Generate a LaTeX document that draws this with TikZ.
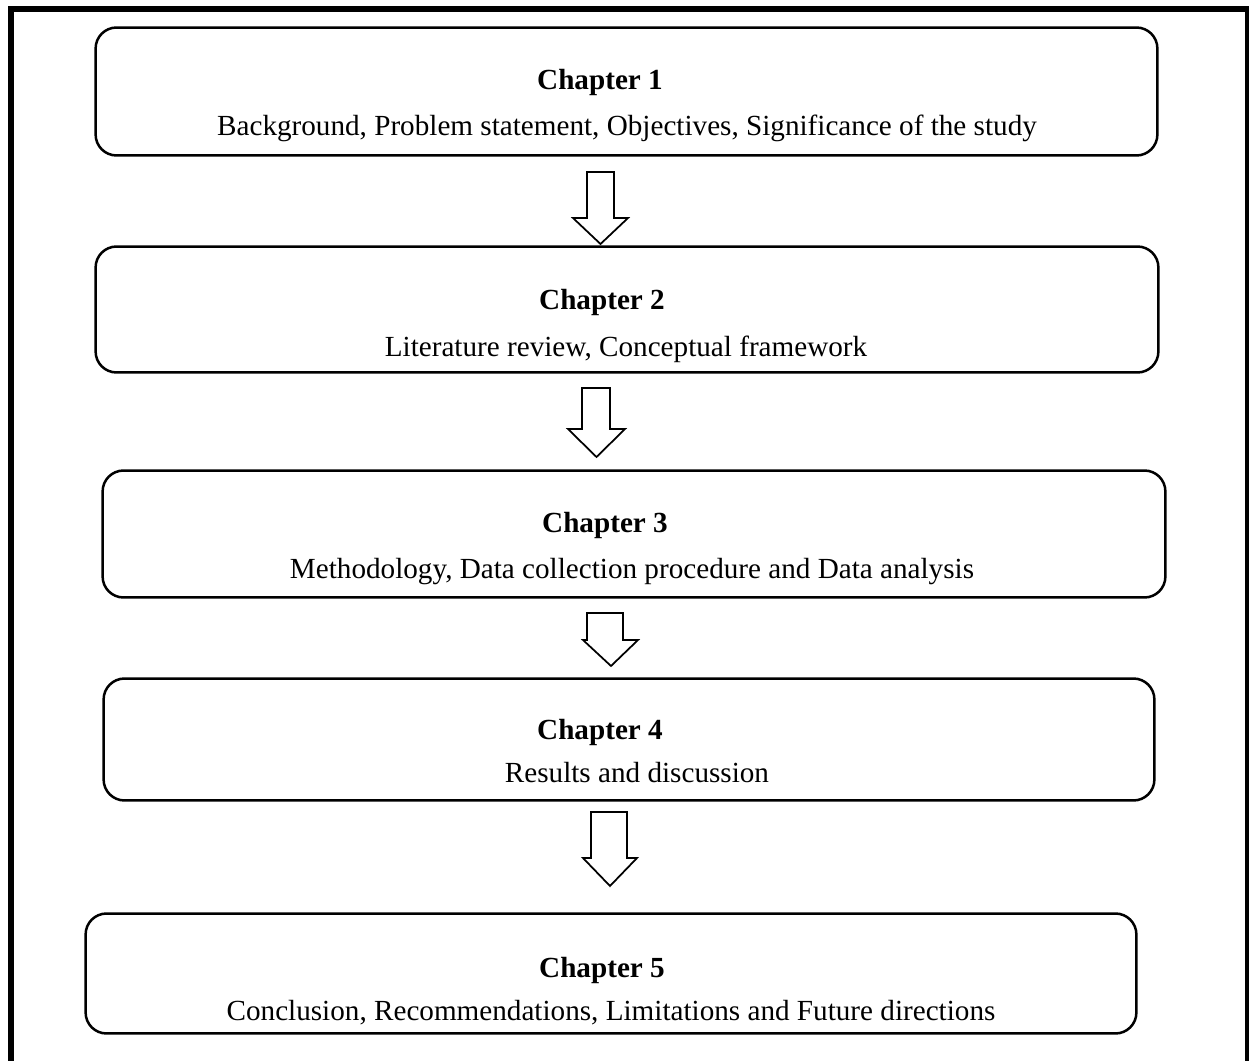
\documentclass[tikz,border=0pt]{standalone}
\usepackage{fontspec}
\setmainfont{Liberation Serif}
\begin{document}
\begin{tikzpicture}[x=0.02cm,y=-0.02cm,
  chbox/.style={draw=black, line width=0.05cm, rounded corners=0.42cm,
    inner sep=0pt, fill=white},
  head/.style={font=\fontsize{16.6}{19}\selectfont\bfseries, inner sep=0pt},
  body/.style={font=\fontsize{16.6}{19}\selectfont, inner sep=0pt},
  blockarrow/.style={draw=black, line width=0.035cm, fill=white, line join=miter}]
\useasboundingbox (0,0) rectangle (1249,1061);
% page frame (open at the bottom)
\draw[line width=0.12cm] (11,1070) -- (11,9) -- (1248,9) -- (1248,1070);

% chapter boxes
\node[chbox, minimum width=21.24cm, minimum height=2.56cm] (c1) at (626.5,91.5) {};
\node[chbox, minimum width=21.26cm, minimum height=2.52cm] (c2) at (627,309.5) {};
\node[chbox, minimum width=21.26cm, minimum height=2.54cm] (c3) at (634,534) {};
\node[chbox, minimum width=21.02cm, minimum height=2.44cm] (c4) at (629,739.5) {};
\node[chbox, minimum width=21.02cm, minimum height=2.40cm] (c5) at (611,973.5) {};

% headings and contents
\node[head] (h1) at (600,82) {Chapter 1};
\node[body] (b1) at (627,128) {Background, Problem statement, Objectives, Significance of the study};
\node[head] (h2) at (602,302) {Chapter 2};
\node[body] (b2) at (626,349) {Literature review, Conceptual framework};
\node[head] (h3) at (605,525) {Chapter 3};
\node[body] (b3) at (632,572) {Methodology, Data collection procedure and Data analysis};
\node[head] (h4) at (600,732) {Chapter 4};
\node[body] (b4) at (637,773) {Results and discussion};
\node[head] (h5) at (602,970) {Chapter 5};
\node[body] (b5) at (611,1013) {Conclusion, Recommendations, Limitations and Future directions};

% block arrows between chapters
\draw[blockarrow] (587,172) -- (614,172) -- (614,218) -- (628,218) -- (600.5,244)
  -- (573,218) -- (587,218) -- cycle;
\draw[blockarrow] (582,388) -- (610,388) -- (610,429) -- (625,429) -- (596.5,457)
  -- (568,429) -- (582,429) -- cycle;
\draw[blockarrow] (587,613) -- (623,613) -- (623,640) -- (638,640) -- (611,666)
  -- (583,640) -- (587,640) -- cycle;
\draw[blockarrow] (591,812) -- (627,812) -- (627,858) -- (637,858) -- (610,886)
  -- (583,858) -- (591,858) -- cycle;
\end{tikzpicture}
\end{document}
